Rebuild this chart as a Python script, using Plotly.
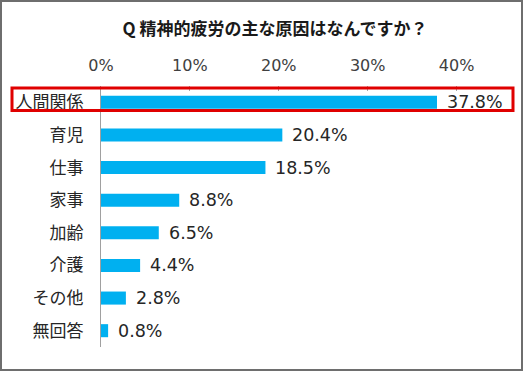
import plotly.graph_objects as go

title_text = "Q 精神的疲労の主な原因はなんですか？"
categories = ["人間関係", "育児", "仕事", "家事", "加齢", "介護", "その他", "無回答"]
values = [37.8, 20.4, 18.5, 8.8, 6.5, 4.4, 2.8, 0.8]
tick_vals = [0, 10, 20, 30, 40]
tick_text = ["0%", "10%", "20%", "30%", "40%"]

W, H = 523, 371
L, R, T, B = 101, 22, 86, 24
PW, PH = W - L - R, H - T - B

def px_x(px):
    return (px - L) / PW

def px_y(py):
    return (H - B - py) / PH

num_font = "DejaVu Sans, Noto Sans CJK JP"
jp_font = "Noto Sans CJK JP, DejaVu Sans"

fig = go.Figure()
fig.add_trace(go.Bar(
    x=values, y=categories, orientation="h",
    marker=dict(color="#00b0f0", line=dict(width=0)),
    hoverinfo="skip",
))

for v, c in zip(values, categories):
    fig.add_annotation(
        x=v, y=c, xref="x", yref="y", text=f"{v:.1f}%",
        showarrow=False, xanchor="left", yanchor="middle", xshift=8,
        font=dict(family=num_font, size=17.5, color="#262626"),
    )

fig.update_layout(
    width=W, height=H,
    margin=dict(l=L, r=R, t=T, b=B),
    paper_bgcolor="white", plot_bgcolor="white",
    bargap=0.6,
    showlegend=False,
    title=dict(
        text=f"<b>{title_text}</b>", x=275 / W, xanchor="center",
        y=1 - 29 / H, yanchor="middle", yref="container",
        font=dict(family=jp_font, size=17, color="#1a1a1a"),
    ),
    xaxis=dict(
        side="top", range=[0, 45], tickvals=tick_vals, ticktext=tick_text,
        showgrid=False, zeroline=False, showline=False,
        ticks="inside", ticklen=5, tickcolor="#a6a6a6", tickwidth=1,
        ticklabelstandoff=11,
        tickfont=dict(family=num_font, size=16, color="#404040"),
    ),
    yaxis=dict(
        autorange="reversed", showgrid=False, zeroline=False,
        showline=True, linecolor="#a0a0a0", linewidth=1,
        ticks="", ticklabelstandoff=13,
        tickfont=dict(family=jp_font, size=17, color="#262626"),
    ),
    shapes=[
        dict(type="rect", xref="paper", yref="paper",
             x0=px_x(12), x1=px_x(513), y0=px_y(110.5), y1=px_y(88),
             line=dict(color="#e00000", width=3), fillcolor="rgba(0,0,0,0)"),
        dict(type="rect", xref="paper", yref="paper",
             x0=px_x(1), x1=px_x(522), y0=px_y(370), y1=px_y(1),
             line=dict(color="#6e6e6e", width=2), fillcolor="rgba(0,0,0,0)"),
    ],
)

fig.write_html(
    "out.html",
    config={"displayModeBar": False, "staticPlot": True},
    post_script="document.body.style.margin='0';document.body.style.overflow='hidden';",
)
